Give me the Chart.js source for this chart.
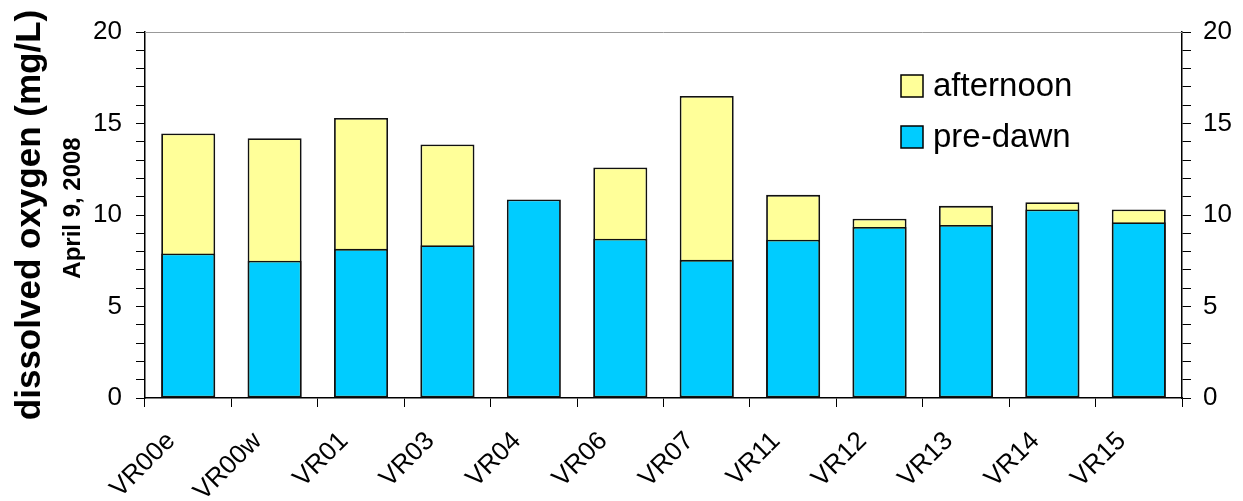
<!DOCTYPE html>
<html>
<head>
<meta charset="utf-8">
<script src="https://cdn.jsdelivr.net/npm/chart.js@4.4.1/dist/chart.umd.min.js"></script>
<style>
  html, body { margin: 0; padding: 0; background: #fff; }
  #wrap { width: 1243px; height: 501px; }
</style>
</head>
<body>
<div id="wrap"><canvas id="chart" width="1243" height="501"></canvas></div>
<script>
// sites
var sites = ['VR00e', 'VR00w', 'VR01', 'VR03', 'VR04', 'VR06', 'VR07', 'VR11', 'VR12', 'VR13', 'VR14', 'VR15'];
// dissolved oxygen, mg/L
var afternoon = [14.45, 14.2, 15.3, 13.85, null, 12.6, 16.5, 11.1, 9.8, 10.5, 10.7, 10.3];
var preDawn = [7.9, 7.5, 8.15, 8.35, 10.85, 8.7, 7.55, 8.65, 9.35, 9.45, 10.3, 9.6];
var yTicks = [0, 5, 10, 15, 20];

var FONT = '"Liberation Sans", Arial, Helvetica, sans-serif';

// y title (two lines, different sizes) + legend inside plot
var extras = {
    id: 'extras',
    afterDraw: function(chart) {
        var ctx = chart.ctx;
        var a = chart.chartArea;
        var midY = (a.top + a.bottom) / 2;

        ctx.save();
        ctx.fillStyle = '#000';
        ctx.textAlign = 'center';
        ctx.textBaseline = 'alphabetic';
        ctx.translate(40, midY);
        ctx.rotate(-Math.PI / 2);
        ctx.font = 'bold 35px ' + FONT;
        ctx.fillText('dissolved oxygen (mg/L)', 0, 0);
        ctx.font = 'bold 24px ' + FONT;
        ctx.fillText('April 9, 2008', 7, 40);
        ctx.restore();

        // legend
        var items = [chart.data.datasets[0], chart.data.datasets[1]];
        ctx.save();
        ctx.font = '33px ' + FONT;
        ctx.textBaseline = 'middle';
        ctx.textAlign = 'left';
        items.forEach(function(ds, i) {
            var y = 86 + i * 51;
            ctx.fillStyle = ds.backgroundColor;
            ctx.fillRect(901, y - 11, 22, 22);
            ctx.strokeStyle = '#000';
            ctx.lineWidth = 1.5;
            ctx.strokeRect(901, y - 11, 22, 22);
            ctx.fillStyle = '#000';
            ctx.fillText(ds.label, 933, y + 1);
        });
        ctx.restore();

        // top border of plot
        ctx.save();
        ctx.strokeStyle = '#999';
        ctx.lineWidth = 1;
        ctx.beginPath();
        ctx.moveTo(a.left, a.top + 0.5);
        ctx.lineTo(a.right, a.top + 0.5);
        ctx.stroke();
        ctx.restore();
    }
};

function yTickLabel(v) {
    return yTicks.indexOf(v) >= 0 ? String(v) : '';
}

new Chart(document.getElementById('chart'), {
    type: 'bar',
    data: {
        labels: sites,
        datasets: [
            {
                label: 'afternoon',
                data: afternoon,
                backgroundColor: '#FFFF99',
                borderColor: '#111',
                borderWidth: 1.8,
                borderSkipped: false,
                grouped: false,
                order: 2,
                barPercentage: 0.625,
                categoryPercentage: 1
            },
            {
                label: 'pre-dawn',
                data: preDawn,
                backgroundColor: '#00CCFF',
                borderColor: '#111',
                borderWidth: 1.8,
                borderSkipped: false,
                grouped: false,
                order: 1,
                barPercentage: 0.625,
                categoryPercentage: 1
            }
        ]
    },
    options: {
        responsive: false,
        animation: false,
        events: [],
        layout: { padding: { top: 32, left: 0, right: 0, bottom: 0 } },
        plugins: {
            legend: { display: false },
            tooltip: { enabled: false }
        },
        scales: {
            x: {
                offset: true,
                grid: {
                    offset: true,
                    drawOnChartArea: false,
                    tickLength: 9,
                    color: '#000',
                    tickWidth: 1
                },
                border: { display: true, color: '#000', width: 1.5 },
                ticks: {
                    color: '#000',
                    font: { family: FONT, size: 26 },
                    maxRotation: 45,
                    minRotation: 45,
                    padding: 19,
                    labelOffset: -17
                },
                afterFit: function(s) { s.height = 103; }
            },
            y: {
                position: 'left',
                min: 0,
                max: 20,
                ticks: {
                    stepSize: 1,
                    autoSkip: false,
                    color: '#000',
                    font: { family: FONT, size: 26 },
                    padding: 14,
                    callback: yTickLabel
                },
                grid: {
                    drawOnChartArea: false,
                    tickLength: 9,
                    color: '#000'
                },
                border: { display: true, color: '#000', width: 1.5 },
                afterFit: function(s) { s.width = 145; }
            },
            y2: {
                position: 'right',
                min: 0,
                max: 20,
                ticks: {
                    stepSize: 1,
                    autoSkip: false,
                    color: '#000',
                    font: { family: FONT, size: 26 },
                    padding: 12,
                    callback: yTickLabel
                },
                grid: {
                    drawOnChartArea: false,
                    tickLength: 9,
                    color: '#000'
                },
                border: { display: true, color: '#000', width: 1.5 },
                afterFit: function(s) { s.width = 61; }
            }
        }
    },
    plugins: [extras]
});
</script>
</body>
</html>
